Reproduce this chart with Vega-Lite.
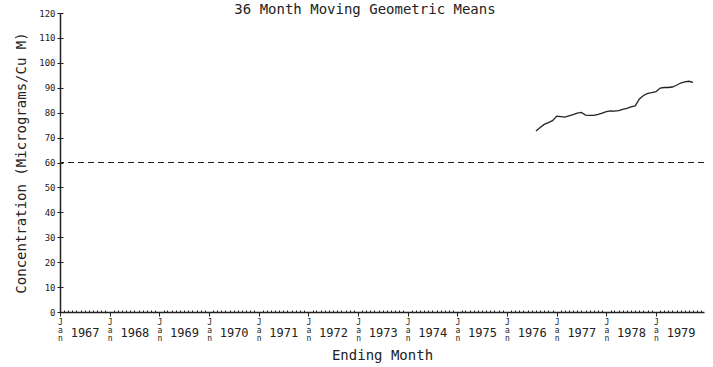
{
  "$schema": "https://vega.github.io/schema/vega-lite/v6.json",
  "width": 644,
  "height": 299,
  "autosize": {"type": "none"},
  "padding": {"left": 60, "top": 13, "right": 9, "bottom": 55},
  "background": "white",
  "title": {"text": "36 Month Moving Geometric Means", "font": "DejaVu Sans Mono", "fontSize": 14, "fontWeight": "normal", "color": "#222", "anchor": "middle", "dx": -17, "offset": -8},
  "config": {
    "view": {"stroke": null},
    "axis": {"labelFont": "DejaVu Sans Mono", "titleFont": "DejaVu Sans Mono", "titleFontWeight": "normal", "domainColor": "#222", "tickColor": "#222", "labelColor": "#222", "titleColor": "#222", "grid": false}
  },
  "layer": [
    {
      "data": {"values": [
        {"month": "1976-08-01", "mean": 72.6},
        {"month": "1976-09-01", "mean": 74.0},
        {"month": "1976-10-01", "mean": 75.3},
        {"month": "1976-11-01", "mean": 76.0},
        {"month": "1976-12-01", "mean": 76.8},
        {"month": "1977-01-01", "mean": 78.6},
        {"month": "1977-02-01", "mean": 78.4},
        {"month": "1977-03-01", "mean": 78.2},
        {"month": "1977-04-01", "mean": 78.7},
        {"month": "1977-05-01", "mean": 79.2},
        {"month": "1977-06-01", "mean": 79.8},
        {"month": "1977-07-01", "mean": 80.1},
        {"month": "1977-08-01", "mean": 79.0},
        {"month": "1977-09-01", "mean": 78.9},
        {"month": "1977-10-01", "mean": 78.9},
        {"month": "1977-11-01", "mean": 79.3},
        {"month": "1977-12-01", "mean": 79.8},
        {"month": "1978-01-01", "mean": 80.4},
        {"month": "1978-02-01", "mean": 80.7},
        {"month": "1978-03-01", "mean": 80.6},
        {"month": "1978-04-01", "mean": 80.8},
        {"month": "1978-05-01", "mean": 81.3},
        {"month": "1978-06-01", "mean": 81.7},
        {"month": "1978-07-01", "mean": 82.3},
        {"month": "1978-08-01", "mean": 82.7},
        {"month": "1978-09-01", "mean": 85.5},
        {"month": "1978-10-01", "mean": 86.9},
        {"month": "1978-11-01", "mean": 87.7},
        {"month": "1978-12-01", "mean": 88.0},
        {"month": "1979-01-01", "mean": 88.4},
        {"month": "1979-02-01", "mean": 89.9},
        {"month": "1979-03-01", "mean": 90.1},
        {"month": "1979-04-01", "mean": 90.1},
        {"month": "1979-05-01", "mean": 90.3},
        {"month": "1979-06-01", "mean": 91.0},
        {"month": "1979-07-01", "mean": 91.9},
        {"month": "1979-08-01", "mean": 92.4},
        {"month": "1979-09-01", "mean": 92.6},
        {"month": "1979-10-01", "mean": 92.2}
      ]},
      "mark": {"type": "line", "color": "#222", "strokeWidth": 1.3},
      "encoding": {
        "x": {
          "field": "month", "type": "temporal",
          "scale": {"type": "utc", "nice": false, "domain": [{"year": 1967, "month": 1, "date": 1, "utc": true}, {"year": 1979, "month": 12, "date": 20, "utc": true}]},
          "axis": {
            "title": "Ending Month", "titleFontSize": 14, "titlePadding": 6,
            "tickCount": {"interval": "month", "step": 1},
            "labelExpr": "utcmonth(datum.value) === 0 ? ['J', 'a', 'n'] : (utcmonth(datum.value) === 6 ? utcyear(datum.value) + '' : '')",
            "labelOverlap": false, "labelFlush": false, "labelBound": false,
            "labelBaseline": "top", "labelLineHeight": 8,
            "labelFontSize": {"condition": {"test": "utcmonth(datum.value) === 6", "value": 12}, "value": 8},
            "labelPadding": {"condition": {"test": "utcmonth(datum.value) === 6", "value": 17}, "value": 2},
            "tickSize": {"condition": {"test": "utcmonth(datum.value) === 0", "value": 4}, "value": -2},
            "tickWidth": 1, "domainWidth": 1.3
          }
        },
        "y": {
          "field": "mean", "type": "quantitative",
          "scale": {"domain": [0, 120], "nice": false},
          "axis": {"title": "Concentration    (Micrograms/Cu M)", "titleFontSize": 14, "titlePadding": 10, "values": [0, 10, 20, 30, 40, 50, 60, 70, 80, 90, 100, 110, 120], "tickSize": 3, "labelPadding": 2, "labelFontSize": 9, "domainWidth": 1.5}
        }
      }
    },
    {
      "data": {"values": [{"standard": 60}]},
      "mark": {"type": "rule", "color": "#222", "strokeDash": [6, 4], "strokeWidth": 1.2},
      "encoding": {
        "y": {"field": "standard", "type": "quantitative", "axis": {"orient": "left", "labels": false, "domain": false, "tickSize": -3, "title": null, "values": [0, 10, 20, 30, 40, 50, 60, 70, 80, 90, 100, 110, 120]}}
      }
    }
  ],
  "resolve": {"axis": {"y": "independent"}}
}
